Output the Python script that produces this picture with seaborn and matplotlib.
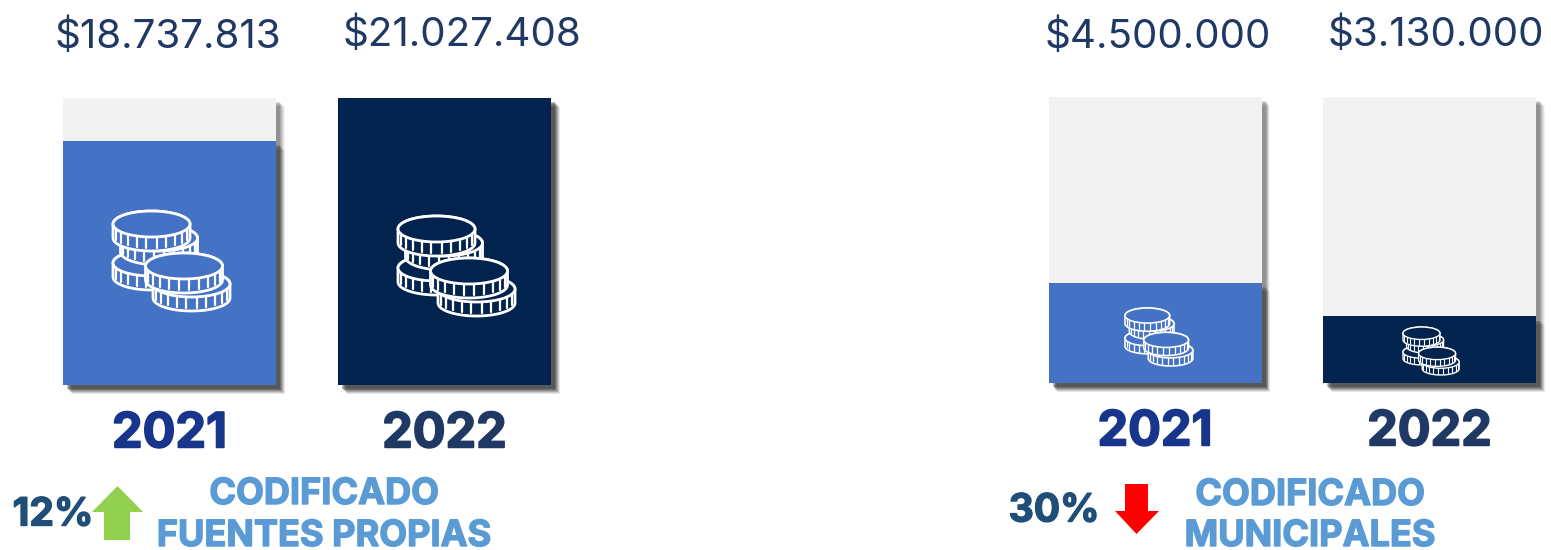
import matplotlib.patheffects as pe
import matplotlib.pyplot as plt
import numpy as np
import seaborn as sns
from matplotlib.patches import Ellipse, Polygon

years = ["2021", "2022"]
amounts_propias = [18737813, 21027408]
amounts_municipales = [4500000, 3130000]
fill_propias = [0.85, 1.0]
fill_municipales = [0.35, 0.234]
track = [1.0, 1.0]
pct_propias = "12%"
pct_municipales = "30%"
title_propias = "CODIFICADO\nFUENTES PROPIAS"
title_municipales = "CODIFICADO\nMUNICIPALES"

W, H = 1551, 550
BAR_COLORS = ["#4472C4", "#03234F"]
YEAR_COLORS = ["#17358A", "#203864"]
TRACK_COLOR = "#F2F2F2"
FONT = "Inter"

sns.set_theme(style="white")
plt.rcParams["font.family"] = [FONT, "DejaVu Sans"]

fig = plt.figure(figsize=(W / 100, H / 100), dpi=100)


def px_axes(left, top, right, bottom):
    return fig.add_axes([left / W, 1 - bottom / H, (right - left) / W, (bottom - top) / H])


def heavy(color, lw):
    return [pe.withStroke(linewidth=lw, foreground=color)]


shadow = [
    pe.SimplePatchShadow(offset=(6.2, -6.2), shadow_rgbFace="k", alpha=0.05),
    pe.SimplePatchShadow(offset=(5.6, -5.6), shadow_rgbFace="k", alpha=0.07),
    pe.SimplePatchShadow(offset=(5.0, -5.0), shadow_rgbFace="k", alpha=0.09),
    pe.SimplePatchShadow(offset=(4.4, -4.4), shadow_rgbFace="k", alpha=0.11),
    pe.SimplePatchShadow(offset=(3.8, -3.8), shadow_rgbFace="k", alpha=0.13),
    pe.SimplePatchShadow(offset=(3.2, -3.2), shadow_rgbFace="k", alpha=0.15),
    pe.Normal(),
]


def bars(ax, fill, c0, step, x0_px, x1_px):
    sns.barplot(x=years, y=track, color=TRACK_COLOR, saturation=1, width=213 / step, linewidth=0, ax=ax)
    sns.barplot(x=years, y=fill, hue=years, palette=BAR_COLORS, saturation=1,
                width=213 / step, linewidth=0, legend=False, ax=ax)
    for p in ax.patches:
        p.set_path_effects(shadow)
        p.set_clip_on(False)
    ax.set_xlim((x0_px - c0) / step, (x1_px - c0) / step)
    ax.set_ylim(0, 1)
    ax.set_yticks([])
    ax.set_xlabel(None)
    ax.set_ylabel(None)
    ax.tick_params(axis="x", length=0, pad=19)
    for lab, col in zip(ax.get_xticklabels(), YEAR_COLORS):
        lab.set_color(col)
        lab.set_fontsize(35)
        lab.set_fontweight("bold")
        lab.set_path_effects(heavy(col, 1.2))
    sns.despine(ax=ax, left=True, bottom=True)
    ax.patch.set_alpha(0)


ax_l = px_axes(0, 98, 620, 385)
bars(ax_l, fill_propias, 169.5, 275, 0, 620)
ax_r = px_axes(980, 97, 1551, 383)
bars(ax_r, fill_municipales, 1155, 274.5, 980, 1551)

# overlay in pixel coords for the icons, arrows and captions
ov = fig.add_axes([0, 0, 1, 1], zorder=5)
ov.set_xlim(0, W)
ov.set_ylim(H, 0)
ov.axis("off")


def coin(cx, cy, s, face, lw, z):
    rx, ry, h = 38.5 * s, 13 * s, 14 * s
    t = np.linspace(0, np.pi, 40)
    low_x, low_y = cx + rx * np.cos(t), cy + h + ry * np.sin(t)
    up_x, up_y = cx + rx * np.cos(t[::-1]), cy - ry * np.sin(t[::-1])
    body = np.column_stack([np.r_[low_x, up_x], np.r_[low_y, up_y]])
    ov.add_patch(Polygon(body, closed=True, fc=face, ec="white", lw=lw, zorder=z))
    for a in np.linspace(-1.2, 1.2, 10):
        x = cx + rx * np.sin(a)
        y = ry * np.cos(a)
        ov.plot([x, x], [cy + y, cy + y + h * 0.8], color="white", lw=lw * 0.8, zorder=z)
    ov.add_patch(Ellipse((cx, cy), 2 * rx, 2 * ry, fc=face, ec="white", lw=lw, zorder=z))


def coins(x, y, s, face):
    lw = 2.0 * max(s, 0.5)
    # back to front, offsets measured from the icon's top left corner
    for z, (dx, dy) in enumerate([(38.5, 52), (46, 27), (38.5, 13), (78.5, 73), (71, 55)], start=2):
        coin(x + dx * s, y + dy * s, s, face, lw, z)


coins(113, 211, 1, BAR_COLORS[0])
coins(398, 216, 1, BAR_COLORS[1])
coins(1125, 308, 0.58, BAR_COLORS[0])
coins(1403, 327, 0.48, BAR_COLORS[1])


def money(v):
    return f"${v:,}".replace(",", ".")


for x, y, v in [(167.5, 37, amounts_propias[0]), (462, 35, amounts_propias[1]),
                (1158, 37, amounts_municipales[0]), (1436, 35, amounts_municipales[1])]:
    ov.text(x, y, money(v), ha="center", va="center", fontsize=29, color="#203864")

ov.text(53, 515, pct_propias, ha="center", va="center", fontsize=28, fontweight="bold",
        color="#1F4E79", path_effects=heavy("#1F4E79", 1.0))
ov.text(1054, 511, pct_municipales, ha="center", va="center", fontsize=28, fontweight="bold",
        color="#1F4E79", path_effects=heavy("#1F4E79", 1.0))

for x, txt, ys in [(324, title_propias, (504, 546)), (1310, title_municipales, (505, 546))]:
    for line, y in zip(txt.split("\n"), ys):
        ov.text(x, y, line, ha="center", va="baseline", fontsize=26, fontweight="bold",
                color="#5B9BD5", path_effects=heavy("#5B9BD5", 1.0))

ov.add_patch(Polygon([(117.5, 486), (143, 512), (130, 512), (130, 540), (104, 540), (104, 512), (92, 512)],
                     closed=True, fc="#92D050", ec="none"))
ov.add_patch(Polygon([(1125, 484), (1148, 484), (1148, 511), (1159, 511), (1136.5, 534), (1115, 511), (1125, 511)],
                     closed=True, fc="#FF0000", ec="none"))

fig.savefig("out.png", dpi=100)
